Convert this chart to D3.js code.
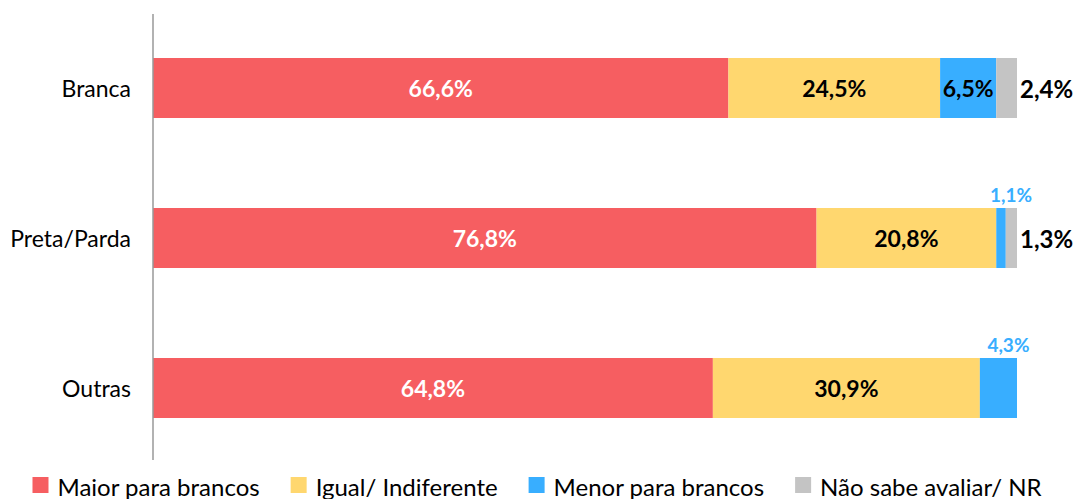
<!DOCTYPE html>
<html>
<head>
<meta charset="utf-8">
<script src="https://cdn.jsdelivr.net/npm/d3@7"></script>
<style>
  body { margin: 0; background: #fff; }
  svg { font-family: Lato, "Open Sans", sans-serif; display: block; }
</style>
</head>
<body>
<svg id="chart"></svg>
<script>
const categories = ["Branca", "Preta/Parda", "Outras"];
const seriesNames = ["Maior para brancos", "Igual/ Indiferente", "Menor para brancos", "Não sabe avaliar/ NR"];
const maior = [66.6, 76.8, 64.8];
const igual = [24.5, 20.8, 30.9];
const menor = [6.5, 1.1, 4.3];
const naoSabe = [2.4, 1.3, 0];

const colors = ["#F65E61", "#FFD76F", "#38AEFF", "#C4C4C4"];

const chartw = 1074;
const charth = 499;

const svg = d3.select("#chart").attr("width", chartw).attr("height", charth);

const rows = categories.map((c, i) => ({
  cat: c,
  values: [maior[i], igual[i], menor[i], naoSabe[i]]
}));

const x = d3.scaleLinear().domain([0, 100]).range([153, 1017]);
const y = d3.scaleBand().domain(categories).range([13, 463]).paddingInner(0.6).paddingOuter(0.3);

const fmt = v => d3.format(".1f")(v).replace(".", ",") + "%";

// segments
const segs = [];
rows.forEach(r => {
  let acc = 0;
  r.values.forEach((v, k) => {
    segs.push({cat: r.cat, k, v, x0: acc, x1: acc + v});
    acc += v;
  });
});

svg.append("g").selectAll("rect")
  .data(segs.filter(d => d.v > 0))
  .join("rect")
    .attr("x", d => x(d.x0))
    .attr("y", d => y(d.cat))
    .attr("width", d => x(d.x1) - x(d.x0))
    .attr("height", y.bandwidth())
    .attr("fill", d => colors[d.k]);

// axis line
svg.append("line")
  .attr("x1", x(0)).attr("x2", x(0))
  .attr("y1", 14).attr("y2", 460)
  .attr("stroke", "#999").attr("stroke-width", 1.5);

// category labels
svg.append("g").selectAll("text")
  .data(categories)
  .join("text")
    .attr("x", 131)
    .attr("y", d => y(d) + y.bandwidth() / 2)
    .attr("text-anchor", "end")
    .attr("dominant-baseline", "central")
    .attr("font-size", 23)
    .attr("fill", "#000")
    .text(d => d);

// value labels
const lab = svg.append("g").attr("font-weight", "bold");
segs.filter(d => d.v > 0).forEach(d => {
  const cy = y(d.cat) + y.bandwidth() / 2;
  const cx = (x(d.x0) + x(d.x1)) / 2;
  if (d.k === 0 || d.k === 1 || (d.k === 2 && d.v >= 5)) {
    lab.append("text")
      .attr("x", cx).attr("y", cy)
      .attr("text-anchor", "middle").attr("dominant-baseline", "central")
      .attr("font-size", 23)
      .attr("fill", d.k === 0 ? "#fff" : "#000")
      .text(fmt(d.v));
  } else if (d.k === 2) {
    lab.append("text")
      .attr("x", cx + 10).attr("y", y(d.cat) - 14)
      .attr("text-anchor", "middle").attr("dominant-baseline", "central")
      .attr("font-size", 19)
      .attr("fill", colors[2])
      .text(fmt(d.v));
  } else {
    lab.append("text")
      .attr("x", x(100) + 3).attr("y", cy)
      .attr("text-anchor", "start").attr("dominant-baseline", "central")
      .attr("font-size", 24)
      .attr("fill", "#000")
      .text(fmt(d.v));
  }
});

// legend
const legend = svg.append("g");
const gap = 31;
let lx = 0;
seriesNames.forEach((name, k) => {
  const item = legend.append("g").attr("transform", `translate(${lx},0)`);
  item.append("rect").attr("x", 0).attr("y", -8).attr("width", 16).attr("height", 16).attr("fill", colors[k]);
  const t = item.append("text")
    .attr("x", 25).attr("y", 1)
    .attr("dominant-baseline", "central")
    .attr("font-size", 24)
    .attr("fill", "#000")
    .text(name);
  lx += 25 + t.node().getComputedTextLength() + gap;
});
const lw = lx - gap;
legend.attr("transform", `translate(${(chartw - lw) / 2},485)`);
</script>
</body>
</html>
